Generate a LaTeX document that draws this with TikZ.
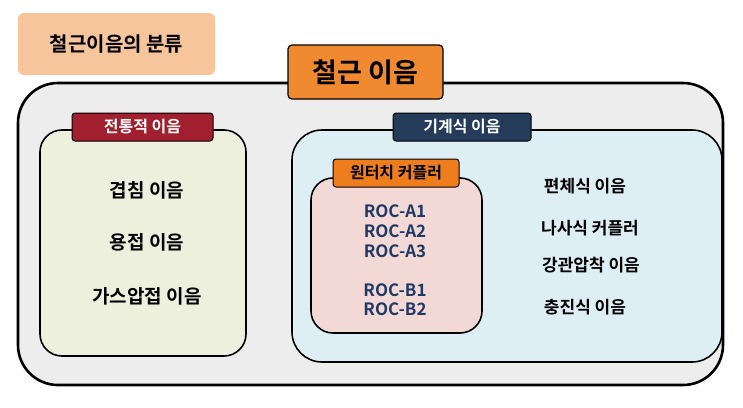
\documentclass[tikz,border=0pt]{standalone}
\usepackage{fontspec}
\setmainfont{Noto Sans CJK KR}[BoldFont={* Bold}]
\definecolor{peach}{HTML}{F7C59C}
\definecolor{org}{HTML}{F08A30}
\definecolor{outerg}{HTML}{EDEDED}
\definecolor{leftf}{HTML}{EEF0DE}
\definecolor{rightf}{HTML}{DDEEF4}
\definecolor{pinkf}{HTML}{F3D9D6}
\definecolor{dred}{HTML}{A11F2E}
\definecolor{navy}{HTML}{243B5A}
\definecolor{rocc}{HTML}{1F3864}
\definecolor{lblo}{HTML}{EE7D1E}
\begin{document}
\begin{tikzpicture}[x=1pt,y=-1pt,
  box/.style={draw=black,line width=1.6pt},
  lbl/.style={draw=black,line width=1pt,rounded corners=3pt,font=\bfseries\fontsize{16}{18}\selectfont,inner sep=0pt},
  txt/.style={font=\bfseries\fontsize{19}{21}\selectfont},
  rtxt/.style={font=\bfseries\fontsize{17}{19}\selectfont},
  roc/.style={font=\bfseries\fontsize{17}{19}\selectfont,text=rocc}]
\useasboundingbox (0,0) rectangle (743,407);
\node[fill=peach,rounded corners=6pt,minimum width=197pt,minimum height=62pt,font=\bfseries\fontsize{20}{22}\selectfont] (title) at (116.5,44) {철근이음의 분류};
\path[box,line width=2.6pt,fill=outerg,rounded corners=40pt] (18,83) rectangle (723,385);
\node[fill=org,draw=black,line width=1.2pt,rounded corners=4pt,minimum width=155pt,minimum height=54pt,font=\bfseries\fontsize{27}{29}\selectfont] (main) at (365.5,72) {철근 이음};
\path[box,fill=leftf,rounded corners=22pt] (40,130) rectangle (246,356);
\node[lbl,fill=dred,text=white,minimum width=141pt,minimum height=28pt] (trad) at (142.5,127) {전통적 이음};
\node[txt] (l1) at (147,190) {겹침 이음};
\node[txt] (l2) at (147,242) {용접 이음};
\node[txt] (l3) at (147,296) {가스압접 이음};
\path[box,fill=rightf,rounded corners=30pt] (292,130) rectangle (722,362);
\node[lbl,fill=navy,text=white,minimum width=138pt,minimum height=28pt] (mech) at (462,127) {기계식 이음};
\path[box,fill=pinkf,rounded corners=22pt] (311,178) rectangle (482,333);
\node[lbl,fill=lblo,text=black,minimum width=126pt,minimum height=28pt] (one) at (396,173) {원터치 커플러};
\node[roc] (a1) at (395,211) {ROC-A1};
\node[roc] (a2) at (395,231) {ROC-A2};
\node[roc] (a3) at (395,251) {ROC-A3};
\node[roc] (b1) at (395,290) {ROC-B1};
\node[roc] (b2) at (395,309) {ROC-B2};
\node[rtxt] (r1) at (585,186) {편체식 이음};
\node[rtxt] (r2) at (590,228) {나사식 커플러};
\node[rtxt] (r3) at (591,265) {강관압착 이음};
\node[rtxt] (r4) at (585,307) {충진식 이음};
\end{tikzpicture}
\end{document}
